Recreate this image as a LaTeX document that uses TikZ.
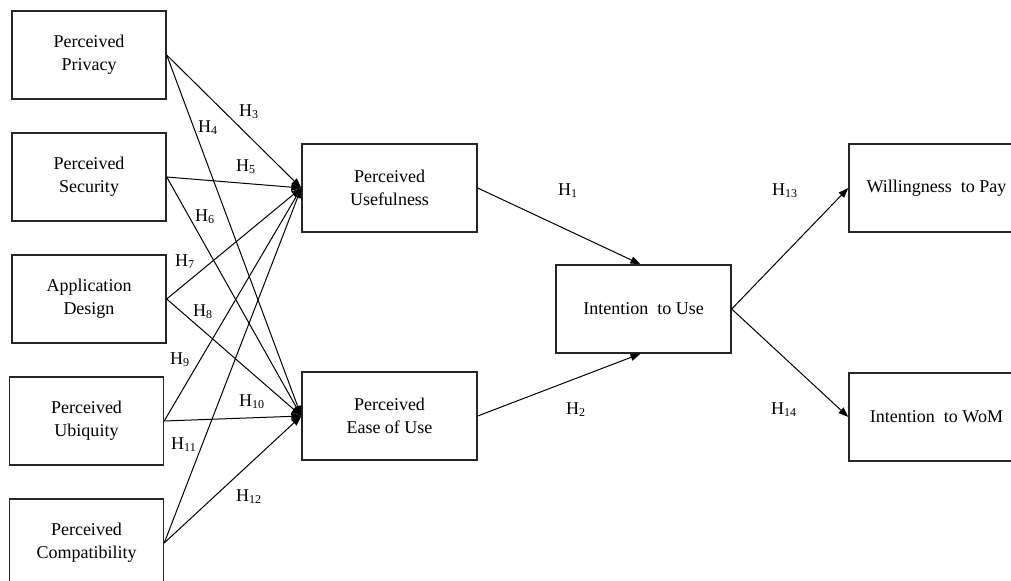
\documentclass[tikz,border=0pt]{standalone}
\usepackage{fontspec}
\setmainfont{Liberation Serif}
\usetikzlibrary{arrows.meta}
\tikzset{
  box/.style={draw=black!85, line width=0.7pt, minimum width=77pt, minimum height=44pt,
    align=center, inner sep=2pt, font=\fontsize{9}{11.5}\selectfont},
  wbox/.style={box, minimum width=87.5pt},
  link/.style={draw, line width=0.5pt, -{Triangle[length=5pt,width=3.6pt]}},
  hyp/.style={font=\fontsize{9}{11}\selectfont, inner sep=0pt},
}

\begin{document}
\begin{tikzpicture}[x=0.5pt,y=-0.5pt]
  \useasboundingbox (0,0) rectangle (1011,581);
  \clip (0,0) rectangle (1011,581);

  % antecedents
  \node[box] (priv) at (89,55)   {Perceived\\Privacy};
  \node[box] (sec)  at (89,177)  {Perceived\\Security};
  \node[box] (app)  at (89,299)  {Application\\Design};
  \node[box] (ubi)  at (86.5,421) {Perceived\\Ubiquity};
  \node[box] (comp) at (86.5,543) {Perceived\\Compatibility};

  % mediators and outcomes
  \node[wbox] (pu)   at (389.5,188) {Perceived\\Usefulness};
  \node[wbox] (peou) at (389.5,416) {Perceived\\Ease of Use};
  \node[wbox] (iu)   at (643.5,309) {Intention\ \ to Use};
  \node[wbox] (wtp)  at (936.5,188) {Willingness\ \ to Pay};
  \node[wbox] (wom)  at (936.5,417) {Intention\ \ to WoM};

  \foreach \s in {priv,sec,app,ubi,comp} {
    \draw[link] (\s.east) -- (pu.west);
    \draw[link] (\s.east) -- (peou.west);
  }
  \draw[link] (pu.east) -- ([xshift=-1.5pt]iu.north);
  \draw[link] (peou.east) -- ([xshift=-1.5pt]iu.south);
  \draw[link] (iu.east) -- (wtp.west);
  \draw[link] (iu.east) -- (wom.west);

  % hypotheses
  \node[hyp] (h1)  at (568,191) {H\textsubscript{1}};
  \node[hyp] (h2)  at (576,410) {H\textsubscript{2}};
  \node[hyp] (h3)  at (249,112) {H\textsubscript{3}};
  \node[hyp] (h4)  at (208,128) {H\textsubscript{4}};
  \node[hyp] (h5)  at (246,167) {H\textsubscript{5}};
  \node[hyp] (h6)  at (205,217) {H\textsubscript{6}};
  \node[hyp] (h7)  at (185,262) {H\textsubscript{7}};
  \node[hyp] (h8)  at (203,312) {H\textsubscript{8}};
  \node[hyp] (h9)  at (180,360) {H\textsubscript{9}};
  \node[hyp] (h10) at (252,402) {H\textsubscript{10}};
  \node[hyp] (h11) at (184,445) {H\textsubscript{11}};
  \node[hyp] (h12) at (249,497) {H\textsubscript{12}};
  \node[hyp] (h13) at (785,191) {H\textsubscript{13}};
  \node[hyp] (h14) at (784,410) {H\textsubscript{14}};
\end{tikzpicture}
\end{document}
